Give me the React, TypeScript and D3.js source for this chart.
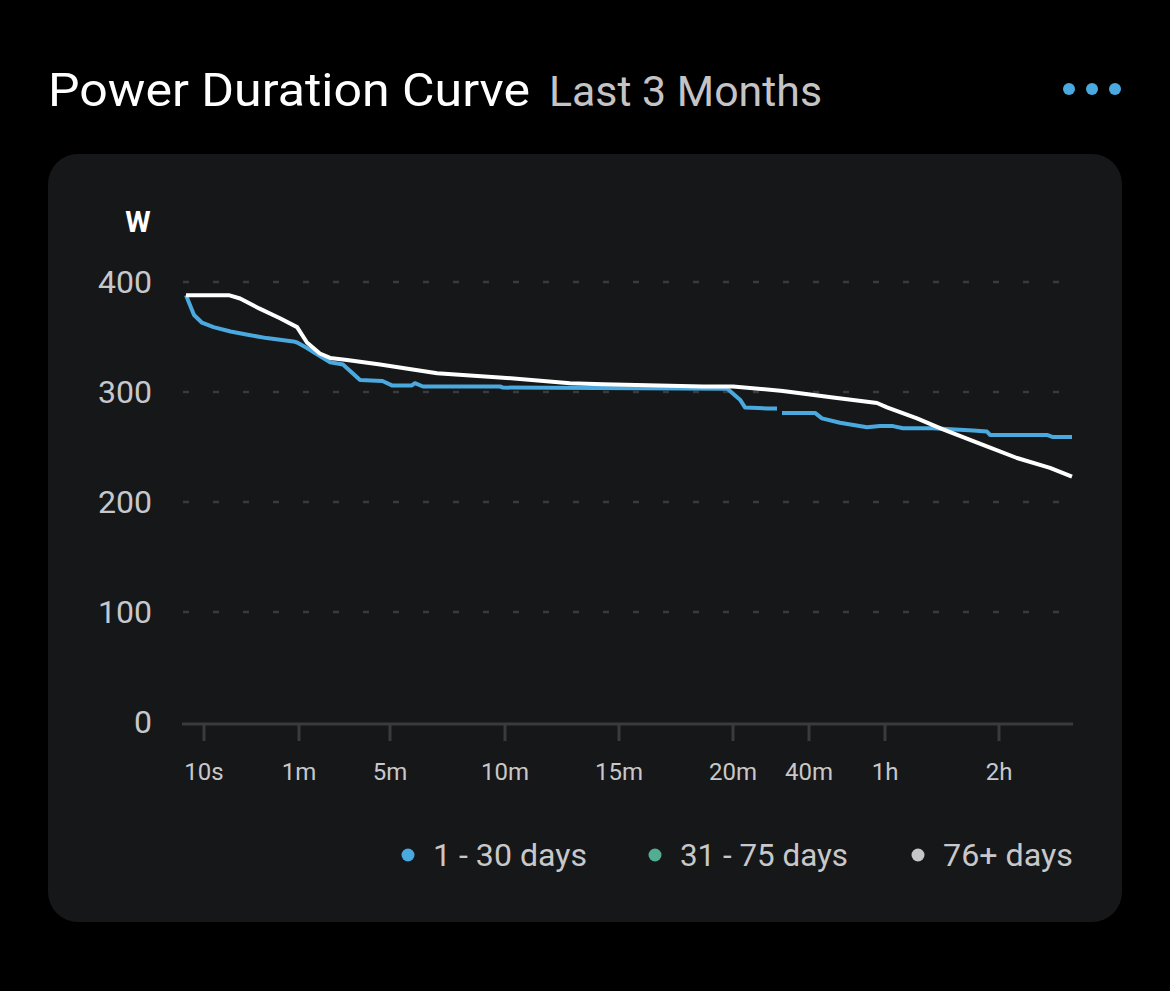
import React from 'react';
import * as d3 from 'd3';

// x axis ticks (seconds) and their labels
const tickSeconds = [10, 60, 300, 600, 900, 1200, 2400, 3600, 7200];
const tickLabels = ['10s', '1m', '5m', '10m', '15m', '20m', '40m', '1h', '2h'];
const yTicks = [0, 100, 200, 300, 400];

// 1 - 30 days (two pieces, there is a gap near 30m)
const recentA: [number, number][] = [
  [1, 388], [5, 370], [9, 363], [15, 359], [24, 355], [33, 352], [43, 349], [57, 346],
  [59, 345], [81, 340], [142, 327], [176, 325], [221, 311], [280, 310], [305, 306],
  [357, 306], [365, 308], [386, 305], [587, 305], [595, 304], [1184, 303], [1192, 301],
  [1311, 293], [1389, 286], [1737, 285], [1895, 285],
];
const recentB: [number, number][] = [
  [1974, 281], [2495, 281], [2605, 276], [2889, 272], [3316, 268], [3521, 269], [3853, 269],
  [4168, 267], [5116, 267], [6379, 265], [6821, 264], [6916, 261], [8757, 261], [8951, 259],
  [9567, 259],
];
// 76+ days
const older: [number, number][] = [
  [1, 388], [23, 388], [29, 385], [39, 376], [50, 367], [59, 359], [81, 345], [115, 335],
  [142, 331], [187, 329], [274, 325], [423, 317], [595, 313], [771, 308], [858, 307],
  [1121, 305], [1200, 305], [1989, 301], [2779, 295], [3474, 290], [3663, 286], [4611, 276],
  [5432, 266], [6695, 252], [7784, 240], [8854, 231], [9567, 223],
];

const legendItems = ['1 - 30 days', '31 - 75 days', '76+ days'];
const legendColors = ['#4aa9de', '#52ad93', '#c3c7c9'];

const FONT = 'Roboto, "Noto Sans", sans-serif';

export default function App() {
  // piecewise x scale, stretched between tick stops as in the app
  const x = d3
    .scaleLinear()
    .domain([1, ...tickSeconds, 9600])
    .range([186, 204, 299, 390, 505, 619, 733, 809, 885, 999, 1073]);
  const y = d3.scaleLinear().domain([0, 400]).range([722, 282]);

  const line = d3
    .line<[number, number]>()
    .x((d) => x(d[0]))
    .y((d) => y(d[1]))
    .curve(d3.curveLinear);

  const legendX = [408, 655, 918];
  const legendW = [154, 168, 130];

  return (
    <svg
      width={1170}
      height={991}
      style={{ position: 'absolute', left: 0, top: 0, display: 'block', background: '#000' }}
    >
      <rect width={1170} height={991} fill="#000" />
      <text x={48} y={106} fill="#fff" fontFamily={FONT} fontSize={47} textLength={482} lengthAdjust="spacingAndGlyphs">
        Power Duration Curve
      </text>
      <text x={549} y={106} fill="#c4c4c6" fontFamily={FONT} fontSize={42} textLength={273} lengthAdjust="spacingAndGlyphs">
        Last 3 Months
      </text>
      {[0, 1, 2].map((i) => (
        <circle key={i} cx={1069 + i * 23} cy={89} r={6} fill="#4aa9de" />
      ))}

      <rect x={48} y={154} width={1074} height={768} rx={30} fill="#161719" />

      <text x={138} y={232} textAnchor="middle" fill="#fff" fontFamily={FONT} fontWeight={700} fontSize={29}>
        W
      </text>

      {yTicks.map((t) => (
        <g key={t}>
          <text
            x={152}
            y={y(t) + 11}
            textAnchor="end"
            fill="#c8c8ca"
            fontFamily={FONT}
            fontSize={32}
          >
            {t}
          </text>
          {t > 0 && (
            <line
              x1={183}
              x2={1062}
              y1={y(t)}
              y2={y(t)}
              stroke="#3a3b3e"
              strokeWidth={2.5}
              strokeDasharray="6 24"
            />
          )}
        </g>
      ))}

      <line x1={182} x2={1073} y1={y(0) + 2} y2={y(0) + 2} stroke="#3a3b3e" strokeWidth={3} />
      {tickSeconds.map((s, i) => (
        <g key={s}>
          <line x1={x(s)} x2={x(s)} y1={y(0) + 2} y2={741} stroke="#3a3b3e" strokeWidth={3} />
          <text x={x(s)} y={780} textAnchor="middle" fill="#c8c8ca" fontFamily={FONT} fontSize={24}>
            {tickLabels[i]}
          </text>
        </g>
      ))}

      <path d={line(recentA) || ''} fill="none" stroke={legendColors[0]} strokeWidth={4} strokeLinejoin="round" />
      <path d={line(recentB) || ''} fill="none" stroke={legendColors[0]} strokeWidth={4} strokeLinejoin="round" />
      <path d={line(older) || ''} fill="none" stroke="#ffffff" strokeWidth={4} strokeLinejoin="round" />

      {legendItems.map((label, i) => (
        <g key={label}>
          <circle cx={legendX[i]} cy={855} r={6.5} fill={legendColors[i]} />
          <text
            x={legendX[i] + 25}
            y={866}
            fill="#c8c8ca"
            fontFamily={FONT}
            fontSize={31}
            textLength={legendW[i]}
            lengthAdjust="spacingAndGlyphs"
          >
            {label}
          </text>
        </g>
      ))}
    </svg>
  );
}
